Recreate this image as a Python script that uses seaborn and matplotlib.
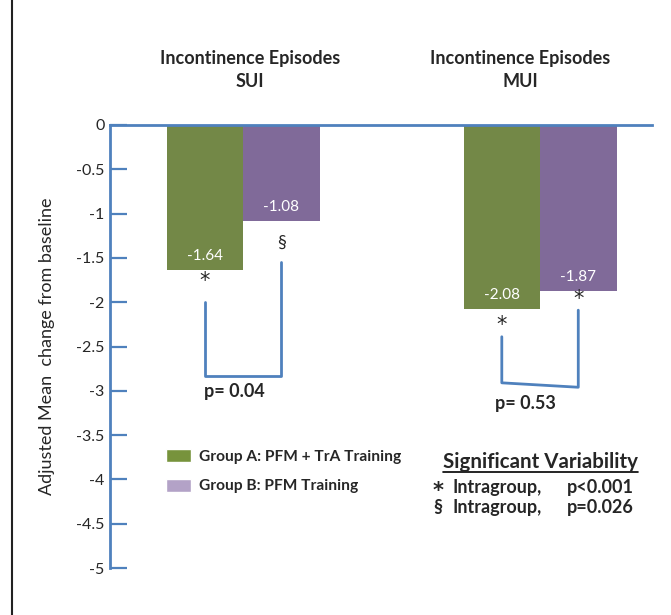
import pandas as pd
import seaborn as sns
import matplotlib.pyplot as plt
from matplotlib.patches import Patch, Rectangle
from matplotlib.lines import Line2D

# data
conditions = ['SUI', 'MUI']
groups = ['Group A: PFM + TrA Training', 'Group B: PFM Training']
group_a = [-1.64, -2.08]
group_b = [-1.08, -1.87]
y_ticks = [0, -0.5, -1, -1.5, -2, -2.5, -3, -3.5, -4, -4.5, -5]
p_values = ['p= 0.04', 'p= 0.53']

df = pd.DataFrame({
    'condition': conditions * 2,
    'group': [groups[0]] * 2 + [groups[1]] * 2,
    'change': group_a + group_b,
})

GREEN = '#77933C'
PURPLE = '#7F62A1'
LIGHT_PURPLE = '#B3A2C7'
BLUE = '#4F81BD'

sns.set_style('white')
plt.rcParams['font.family'] = ['Lato', 'DejaVu Sans']

W, H = 671, 615
fig = plt.figure(figsize=(W / 100, H / 100), dpi=100)


def px(x, y):
    # pixel position -> figure fraction
    return x / W, 1 - y / H


def mark(sym):
    # Lato's asterisk is tiny, DejaVu's is closer to the original
    if sym == '*':
        return dict(family='DejaVu Sans', fontsize=15)
    return dict(fontsize=13)


ax = fig.add_axes([110 / W, 1 - 568 / H, (652 - 110) / W, (568 - 125) / H])

sns.barplot(data=df, x='condition', y='change', hue='group', order=conditions,
            hue_order=groups, palette=[GREEN, PURPLE], width=0.515,
            edgecolor='none', legend=False, ax=ax)

for cont, vals in zip(ax.containers, [group_a, group_b]):
    ax.bar_label(cont, labels=[f'{v:.2f}' for v in vals], padding=-15,
                 color='white', fontsize=11)

ax.set_xlim(-0.448, 1.377)
ax.set_ylim(-5, 0)
ax.set_yticks(y_ticks)
ax.set_yticklabels([f'{t:g}' for t in y_ticks])
ax.set_xticks([])
ax.set_xlabel('')
ax.set_ylabel('Adjusted Mean  change from baseline', fontsize=13, labelpad=15)

for side in ['bottom', 'right']:
    ax.spines[side].set_visible(False)
for side in ['left', 'top']:
    ax.spines[side].set_color(BLUE)
    ax.spines[side].set_linewidth(2)
ax.tick_params(axis='y', direction='in', length=12, width=1.6, color=BLUE,
               labelsize=11.5, pad=4, left=True)

# significance brackets between bar centres
bar_w = 0.515 / 2
for i, (ytop_a, ytop_b, ybot_a, ybot_b, mark_a, mark_b, ma, mb, ptxt, py) in enumerate([
    (-2.0, -1.55, -2.83, -2.83, -1.76, -1.33, '*', '§', p_values[0], -3.01),
    (-2.39, -2.09, -2.91, -2.96, -2.26, -1.96, '*', '*', p_values[1], -3.14),
]):
    xa = i - bar_w / 2
    xb = i + bar_w / 2
    ax.plot([xa, xa, xb, xb], [ytop_a, ybot_a, ybot_b, ytop_b], color=BLUE,
            lw=2, clip_on=False)
    ax.text(xa, mark_a, ma, ha='center', va='center', **mark(ma))
    ax.text(xb, mark_b, mb, ha='center', va='center', **mark(mb))
    ax.text(i - 0.03 if i == 0 else i - 0.05, py, ptxt, ha='center', va='center',
            fontsize=13, fontweight='bold')

# titles above each group
for cx, name in zip([250, 520], conditions):
    fig.text(*px(cx, 70), f'Incontinence Episodes\n{name}', ha='center', va='center',
             fontsize=13, fontweight='bold', linespacing=1.45)

# legend
handles = [Patch(facecolor=GREEN), Patch(facecolor=LIGHT_PURPLE)]
fig.legend(handles, groups, loc='upper left', bbox_to_anchor=px(166, 449),
           frameon=False, prop={'weight': 'bold', 'size': 11.2},
           handlelength=1.6, handleheight=0.9, handletextpad=0.55,
           labelspacing=0.95, borderpad=0, borderaxespad=0)

# significance key
fig.text(*px(443, 462), 'Significant Variability', ha='left', va='center',
         fontsize=14.8, fontweight='bold')
fig.add_artist(Line2D([443 / W, 638 / W], [1 - 472 / H] * 2, color='black', lw=1.2))
for yy, sym, pv in [(488, '*', 'p<0.001'), (508, '§', 'p=0.026')]:
    fig.text(*px(438, yy + (3 if sym == '*' else 0)), sym, ha='center', va='center',
             fontweight='bold', **mark(sym))
    fig.text(*px(452, yy), 'Intragroup,', ha='left', va='center', fontsize=13,
             fontweight='bold')
    fig.text(*px(567, yy), pv, ha='left', va='center', fontsize=13, fontweight='bold')

# frame around the figure (only top and left edges fall inside the image)
fig.add_artist(Rectangle((12 / W, -0.2), 1.2, 1.2 + (1 - 13 / H), transform=fig.transFigure,
                         fill=False, edgecolor='#222222', lw=1.5))

fig.savefig('out.png', dpi=100)
